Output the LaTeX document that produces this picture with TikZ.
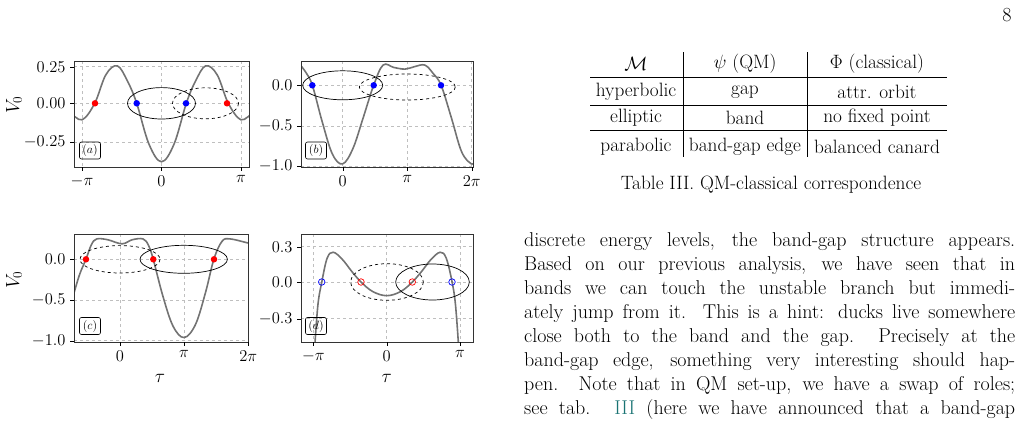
\RequirePackage{fix-cm}
\documentclass[tikz,border=0pt]{standalone}
\usepackage{amsmath}
\usepackage{fontspec}
\begin{document}
\begin{tikzpicture}[x=1pt,y=-1pt,
 frame/.style={draw=black!80,line width=0.8pt},
 grd/.style={draw=black!25,dashed,line width=0.6pt},
 crv/.style={draw=black!55,line width=1.6pt},
 tk/.style={font=\fontsize{16.5}{18}\selectfont},
 lab/.style={draw,rounded corners=2pt,line width=0.6pt,minimum width=21pt,minimum height=17pt,inner sep=1pt,font=\fontsize{12}{13}\selectfont},
 ell/.style={draw,line width=0.7pt},
 dell/.style={draw,line width=0.7pt,dashed},
 fdot/.style={circle,inner sep=0pt,minimum size=6.5pt},
 odot/.style={circle,inner sep=0pt,minimum size=6.5pt,draw,line width=0.7pt},
 txt/.style={font=\fontsize{20}{24}\selectfont},
 ttx/.style={font=\fontsize{19.3}{23}\selectfont}]
\useasboundingbox (0,0) rectangle (1020,421);
\node[txt,anchor=east] (pg) at (1015,15) {8};
% ---------- panel a
\begin{scope}
\clip (74,61) rectangle (249,167);
\foreach \x in {82,161.5,241} \draw[grd] (\x,61) -- (\x,167);
\foreach \y in {66.7,103.3,142.3} \draw[grd] (74,\y) -- (249,\y);
\begin{scope}[shift={(161.5,103.3)},xscale=25.3,yscale=-150]
\draw[crv] plot[smooth,tension=0.6] coordinates {(-3.6,-0.06)(-3.14,-0.11)(-2.64,0)(-2.2,0.19)(-1.75,0.25)(-1.35,0.15)(-0.98,0)(-0.5,-0.27)(0,-0.39)(0.5,-0.27)(0.98,0)(1.35,0.15)(1.75,0.25)(2.2,0.19)(2.64,0)(3.14,-0.11)(3.6,-0.06)};
\end{scope}
\end{scope}
\draw[frame] (74,61) rectangle (249,167);
\foreach \x/\l in {82/$-\pi$,161.5/$0$,241/$\pi$} {\draw (\x,167) -- (\x,171); \node[tk,anchor=north] at (\x,172) {\l};}
\foreach \y/\l in {66.7/$0.25$,103.3/$0.00$,142.3/$-0.25$} {\draw (74,\y) -- (70,\y); \node[tk,anchor=east] at (69,\y) {\l};}
\node[rotate=90,tk,font=\fontsize{19}{20}\selectfont] (v0a) at (14,105) {$V_0$};
\draw[ell] (161.5,103.3) ellipse (34 and 15.7);
\draw[dell] (205.5,103.3) ellipse (33 and 15.5);
\node[fdot,fill=red] (a1) at (95,103.3) {};
\node[fdot,fill=blue] (a2) at (136.7,103.3) {};
\node[fdot,fill=blue] (a3) at (186,103.3) {};
\node[fdot,fill=red] (a4) at (227,103.3) {};
\node[lab] (la) at (90,150.5) {$(a)$};
% ---------- panel b
\begin{scope}
\clip (301,61) rectangle (473,167);
\foreach \x in {342.7,407.3,471.7} \draw[grd] (\x,61) -- (\x,167);
\foreach \y in {85.3,126.3,166.3} \draw[grd] (301,\y) -- (473,\y);
\begin{scope}[shift={(342.7,85.3)},xscale=20.5,yscale=-81]
\draw[crv] plot[smooth,tension=0.6] coordinates {(-2.1,0.26)(-1.8,0.16)(-1.48,0)(-1.0,-0.45)(-0.5,-0.85)(0,-0.97)(0.5,-0.78)(1.0,-0.4)(1.51,0)(1.97,0.25)(2.5,0.22)(3.04,0.2)(3.5,0.23)(4.0,0.25)(4.4,0.15)(4.8,0)(5.3,-0.4)(5.8,-0.82)(6.28,-0.97)(6.5,-0.93)};
\end{scope}
\end{scope}
\draw[frame] (301,61) rectangle (473,167);
\foreach \x/\l in {342.7/$0$,407.3/$\pi$,471.7/$2\pi$} {\draw (\x,167) -- (\x,171); \node[tk,anchor=north] at (\x,172) {\l};}
\foreach \y/\l in {85.3/$0.0$,126.3/$-0.5$,166.3/$-1.0$} {\draw (301,\y) -- (297,\y); \node[tk,anchor=east] at (296,\y) {\l};}
\draw[ell] (342.7,85.3) ellipse (40 and 14.5);
\draw[dell] (407.3,87) ellipse (48 and 13);
\node[fdot,fill=blue] (b1) at (312.3,85.3) {};
\node[fdot,fill=blue] (b2) at (373.7,85.3) {};
\node[fdot,fill=blue] (b3) at (441,85.3) {};
\node[lab] (lb) at (316,150.5) {$(b)$};
% ---------- panel c
\begin{scope}
\clip (74,234.3) rectangle (248.3,342.3);
\foreach \x in {120,184,248.3} \draw[grd] (\x,234.3) -- (\x,342.3);
\foreach \y in {259.3,300,340.7} \draw[grd] (74,\y) -- (248.3,\y);
\begin{scope}[shift={(120,259.3)},xscale=20.4,yscale=-81.5]
\draw[crv] plot[smooth,tension=0.6] coordinates {(-2.35,-0.5)(-2.0,-0.2)(-1.67,0)(-1.4,0.18)(-1.14,0.25)(-0.6,0.24)(0.1,0.19)(0.6,0.24)(1.13,0.25)(1.4,0.17)(1.63,0)(2.1,-0.45)(2.6,-0.82)(3.14,-0.96)(3.7,-0.8)(4.2,-0.4)(4.6,0)(5.0,0.22)(5.4,0.25)(6.28,0.2)(6.4,0.2)};
\end{scope}
\end{scope}
\draw[frame] (74,234.3) rectangle (248.3,342.3);
\foreach \x/\l in {120/$0$,184/$\pi$,248.3/$2\pi$} {\draw (\x,342.3) -- (\x,346.3); \node[tk,anchor=north] at (\x,347) {\l};}
\foreach \y/\l in {259.3/$0.0$,300/$-0.5$,340.7/$-1.0$} {\draw (74,\y) -- (70,\y); \node[tk,anchor=east] at (69,\y) {\l};}
\node[rotate=90,tk,font=\fontsize{19}{20}\selectfont] (v0c) at (14,280) {$V_0$};
\node[tk,font=\fontsize{19}{20}\selectfont] (tc) at (160,378) {$\tau$};
\draw[dell] (120,259.3) ellipse (40 and 13.7);
\draw[ell] (183.7,259.3) ellipse (43.7 and 14);
\node[fdot,fill=red] (c1) at (86,259.3) {};
\node[fdot,fill=red] (c2) at (153.3,259.3) {};
\node[fdot,fill=red] (c3) at (214,259.3) {};
\node[lab] (lc) at (90,326) {$(c)$};
% ---------- panel d
\begin{scope}
\clip (301,234.3) rectangle (473,342.3);
\foreach \x in {313.3,386.7,460} \draw[grd] (\x,234.3) -- (\x,342.3);
\foreach \y in {246.7,282,318.7} \draw[grd] (301,\y) -- (473,\y);
\begin{scope}[shift={(386.7,282)},xscale=23.35,yscale=-119]
\draw[crv] plot[smooth,tension=0.6] coordinates {(-3.1,-0.6)(-2.95,-0.2)(-2.78,0)(-2.55,0.2)(-2.29,0.25)(-1.9,0.19)(-1.5,0.09)(-1.1,0)(-0.6,-0.08)(0,-0.115)(0.6,-0.08)(1.1,0)(1.5,0.09)(1.9,0.19)(2.29,0.25)(2.55,0.2)(2.8,0)(2.95,-0.2)(3.1,-0.6)};
\end{scope}
\end{scope}
\draw[frame] (301,234.3) rectangle (473,342.3);
\foreach \x/\l in {313.3/$-\pi$,386.7/$0$,460/$\pi$} {\draw (\x,342.3) -- (\x,346.3); \node[tk,anchor=north] at (\x,347) {\l};}
\foreach \y/\l in {246.7/$0.3$,282/$0.0$,318.7/$-0.3$} {\draw (301,\y) -- (297,\y); \node[tk,anchor=east] at (296,\y) {\l};}
\node[tk,font=\fontsize{19}{20}\selectfont] (td) at (386.7,378) {$\tau$};
\draw[dell] (387,282) ellipse (36.3 and 18.3);
\draw[ell] (432.5,282) ellipse (36.8 and 18);
\node[odot,draw=blue] (d1) at (321.7,282) {};
\node[odot,draw=red] (d2) at (361,282) {};
\node[odot,draw=red] (d3) at (412.3,282) {};
\node[odot,draw=blue] (d4) at (452,282) {};
\node[lab] (ld) at (316,326) {$(d)$};
% ---------- table
\draw[line width=0.6pt] (590,77.7) -- (947,77.7);
\draw[line width=0.6pt] (590,105) -- (947,105);
\draw[line width=0.6pt] (590,130.7) -- (947,130.7);
\draw[line width=0.6pt] (683,52) -- (683,157);
\draw[line width=0.6pt] (807.7,52) -- (807.7,157);
\node[ttx] (h1) at (636,64) {$\mathcal{M}$};
\node[ttx] (h2) at (745,64) {$\psi$ (QM)};
\node[ttx] (h3) at (877,64) {$\Phi$ (classical)};
\node[ttx] (r1) at (636,92) {hyperbolic};
\node[ttx] (r2) at (745,92) {gap};
\node[ttx] (r3) at (877,92) {attr. orbit};
\node[ttx] (e1) at (636,118) {elliptic};
\node[ttx] (e2) at (745,118) {band};
\node[ttx] (e3) at (877,118) {no fixed point};
\node[ttx] (p1) at (636,147) {parabolic};
\node[ttx] (p2) at (745,147) {band-gap edge};
\node[ttx] (p3) at (877,147) {balanced canard};
\node[ttx] (cap) at (771,185) {Table III. QM-classical correspondence};
% ---------- text
\node[txt,anchor=north west,inner sep=0pt,text width=491pt,align=justify] (body) at (524,232) {discrete energy levels, the band-gap structure appears.\linebreak Based on our previous analysis, we have seen that in\linebreak bands we can touch the unstable branch but immedi-\linebreak ately jump from it. This is a hint: ducks live somewhere\linebreak close both to the band and the gap.\ \ Precisely at the\linebreak band-gap edge, something very interesting should hap-\linebreak pen. Note that in QM set-up, we have a swap of roles;\linebreak \makebox[491pt][s]{see tab. \textcolor[rgb]{0.1,0.45,0.45}{III} (here we have announced that a band-gap}};
\end{tikzpicture}
\end{document}
